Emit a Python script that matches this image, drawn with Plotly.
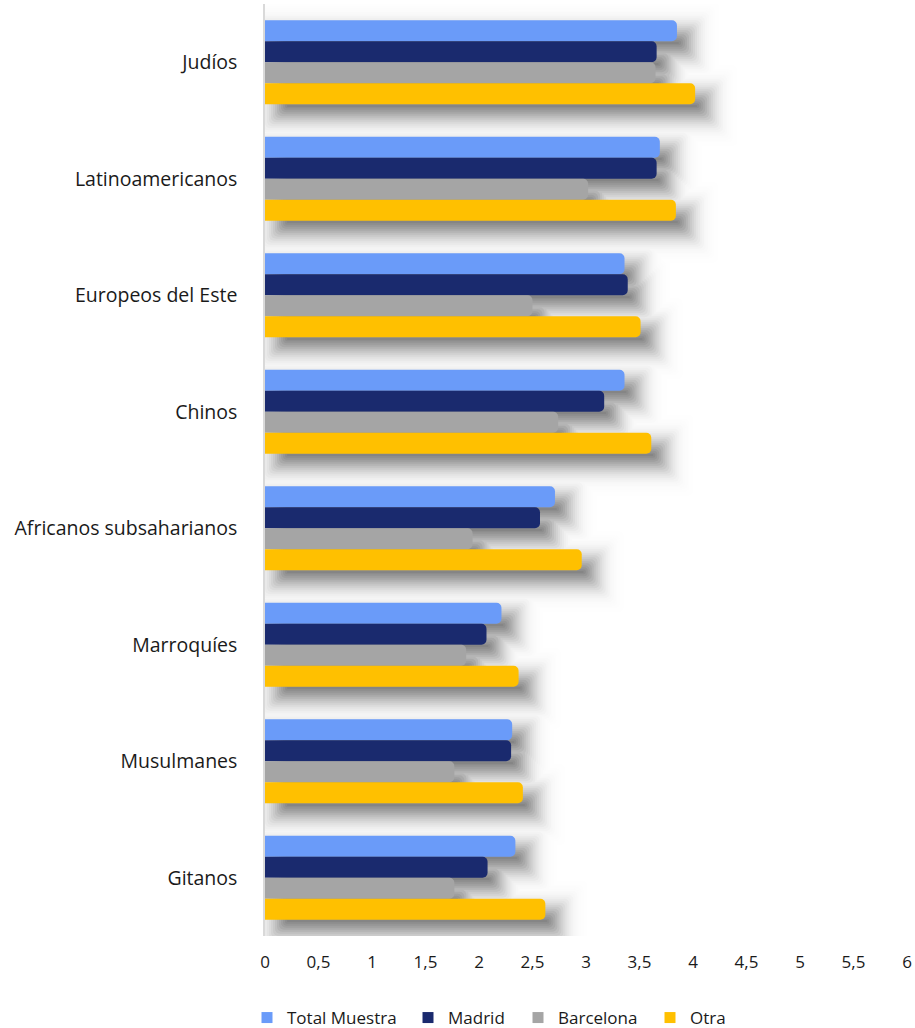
import math
import plotly.graph_objects as go

# Valoración media por grupo y por muestra
categorias = ["Judíos", "Latinoamericanos", "Europeos del Este", "Chinos",
              "Africanos subsaharianos", "Marroquíes", "Musulmanes", "Gitanos"]

total_muestra = [3.85, 3.69, 3.36, 3.36, 2.71, 2.21, 2.31, 2.34]
madrid = [3.66, 3.66, 3.39, 3.17, 2.57, 2.07, 2.30, 2.08]
barcelona = [3.65, 3.02, 2.50, 2.74, 1.94, 1.88, 1.77, 1.77]
otra = [4.02, 3.84, 3.51, 3.61, 2.96, 2.37, 2.41, 2.62]

series = [
    ("Total Muestra", total_muestra, "#6A9BF9"),
    ("Madrid", madrid, "#1A2A6E"),
    ("Barcelona", barcelona, "#A5A5A5"),
    ("Otra", otra, "#FFC000"),
]

tick_vals = [0, 0.5, 1, 1.5, 2, 2.5, 3, 3.5, 4, 4.5, 5, 5.5, 6]

FONT = "'Open Sans', 'Noto Sans', sans-serif"
W, H = 915, 1028
M_L, M_R, M_T, M_B = 265, 8, 4, 92
bargap = 0.28
n = len(series)
bar_w = (1 - bargap) / n
group_start = -(1 - bargap) / 2

# pixel -> data unit conversion, for the shadow offsets
px_x = 6 / (W - M_L - M_R)
px_y = len(categorias) / (H - M_T - M_B)

fig = go.Figure()

# soft drop shadow: opaque grey rings from largest/lightest to smallest/darkest,
# approximating a blurred copy of each bar shifted right and down
shift_x, shift_y = 12, 12
sigma = 16
core_grey = 105
for s in range(34, -11, -2):
    f = 0.5 * (1 - math.erf(s / sigma))
    g = int(round(255 - (255 - core_grey) * f))
    for i, (name, vals, color) in enumerate(series):
        fig.add_trace(go.Bar(
            y=categorias,
            x=[v + 2 * s * px_x for v in vals],
            base=(shift_x - s) * px_x,
            orientation="h",
            offset=group_start + i * bar_w + (shift_y - s) * px_y,
            width=bar_w + 2 * s * px_y,
            marker=dict(color=f"rgb({g},{g},{g})", line=dict(width=0)),
            showlegend=False, hoverinfo="skip",
        ))

for k, (name, vals, color) in enumerate(series):
    fig.add_trace(go.Bar(
        y=categorias, x=vals, name=name, orientation="h",
        offset=group_start + k * bar_w, width=bar_w,
        marker=dict(color=color, line=dict(width=0)),
        showlegend=False,
    ))

# legend entries with square keys, one legend box per entry
legend_text_x = [285, 446, 556, 688]
legend_names = ["legend", "legend2", "legend3", "legend4"]
legend_layout = {}
for (name, vals, color), lx, lg in zip(series, legend_text_x, legend_names):
    fig.add_trace(go.Scatter(
        x=[None], y=[None], mode="markers", name=name, legend=lg,
        marker=dict(symbol="square", size=11, color=color),
        showlegend=True, hoverinfo="skip",
    ))
    legend_layout[lg] = dict(
        orientation="h", xref="container", yref="container",
        x=(lx - 38) / W, xanchor="left", y=1 - 1018 / H, yanchor="middle",
        font=dict(size=17, family=FONT, color="#1a1a1a"),
        itemwidth=30, bgcolor="rgba(0,0,0,0)",
    )

fig.update_layout(
    width=W, height=H,
    margin=dict(l=M_L, r=M_R, t=M_T, b=M_B, autoexpand=False),
    paper_bgcolor="white", plot_bgcolor="white",
    barmode="overlay", barcornerradius=5,
    separators=",.",
    font=dict(family=FONT, color="#1a1a1a"),
    **legend_layout,
)
fig.update_xaxes(range=[0, 6], tickvals=tick_vals, showgrid=False, zeroline=False,
                 showline=False, ticks="", tickfont=dict(size=17), ticklabelstandoff=14)
fig.update_yaxes(range=[7.5, -0.5], autorange=False, showgrid=False, zeroline=False,
                 showline=True, linecolor="#D9D9D9", linewidth=1.5,
                 ticks="", tickfont=dict(size=19.5), ticklabelstandoff=22)

fig.write_html("out.html")
